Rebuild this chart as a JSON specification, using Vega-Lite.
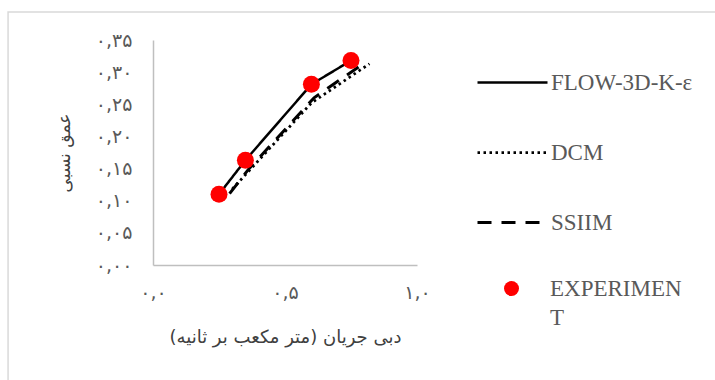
{
  "$schema": "https://vega.github.io/schema/vega-lite/v6.json",
  "width": 264,
  "height": 225,
  "autosize": "none",
  "padding": {"left": 153, "top": 40, "right": 298, "bottom": 115},
  "background": "white",
  "title": {
    "text": "(b)",
    "font": "Liberation Serif",
    "fontSize": 24,
    "fontWeight": "normal",
    "color": "#000000",
    "anchor": "middle",
    "baseline": "alphabetic",
    "dx": 85,
    "offset": 42
  },
  "config": {
    "view": {"stroke": null},
    "font": "DejaVu Sans",
    "style": {"guide-label": {"lineHeight": 29}},
    "axis": {
      "ticks": false,
      "grid": false,
      "domainColor": "#bfbfbf",
      "domainWidth": 1.5,
      "labelFont": "DejaVu Sans",
      "labelFontSize": 19,
      "labelColor": "#595959",
      "labelOverlap": false,
      "labelFlush": false,
      "labelBound": false,
      "titleFont": "DejaVu Sans",
      "titleFontWeight": "normal",
      "titleColor": "#404040"
    },
    "axisX": {"labelPadding": 18, "titleFontSize": 18, "titlePadding": 26},
    "axisY": {"labelPadding": 21, "titleFontSize": 17, "titlePadding": 22}
  },
  "datasets": {
    "models": [
      {"series": "FLOW-3D-K-ε", "Q": 0.25, "depth": 0.110},
      {"series": "FLOW-3D-K-ε", "Q": 0.35, "depth": 0.163},
      {"series": "FLOW-3D-K-ε", "Q": 0.60, "depth": 0.281},
      {"series": "FLOW-3D-K-ε", "Q": 0.75, "depth": 0.318},
      {"series": "DCM", "Q": 0.30, "depth": 0.118},
      {"series": "DCM", "Q": 0.60, "depth": 0.252},
      {"series": "DCM", "Q": 0.82, "depth": 0.313},
      {"series": "SSIIM", "Q": 0.29, "depth": 0.111},
      {"series": "SSIIM", "Q": 0.36, "depth": 0.148},
      {"series": "SSIIM", "Q": 0.61, "depth": 0.260},
      {"series": "SSIIM", "Q": 0.785, "depth": 0.310}
    ],
    "experiment": [
      {"series": "EXPERIMENT", "Q": 0.25, "depth": 0.110},
      {"series": "EXPERIMENT", "Q": 0.35, "depth": 0.163},
      {"series": "EXPERIMENT", "Q": 0.60, "depth": 0.281},
      {"series": "EXPERIMENT", "Q": 0.75, "depth": 0.318}
    ],
    "frame": [{"id": 1}]
  },
  "layer": [
    {
      "data": {"name": "models"},
      "mark": {"type": "line", "color": "#000000"},
      "encoding": {
        "x": {
          "field": "Q",
          "type": "quantitative",
          "scale": {"domain": [0, 1], "nice": false, "zero": false},
          "axis": {
            "values": [0, 0.5, 1],
            "tickCount": 10,
            "labelExpr": "['۰,۰', '۰,۵', '۱,۰'][round(datum.value * 2)]",
            "title": "دبی جریان (متر مکعب بر ثانیه)‏"
          }
        },
        "y": {
          "field": "depth",
          "type": "quantitative",
          "scale": {"domain": [0, 0.35], "nice": false, "zero": false},
          "axis": {
            "values": [0, 0.05, 0.1, 0.15, 0.2, 0.25, 0.3, 0.35],
            "tickCount": 10,
            "labelExpr": "['۰,۰۰', '۰,۰۵', '۰,۱۰', '۰,۱۵', '۰,۲۰', '۰,۲۵', '۰,۳۰', '۰,۳۵'][round(datum.value * 20)]",
            "title": "عمق نسبی"
          }
        },
        "strokeDash": {
          "field": "series",
          "type": "nominal",
          "scale": {
            "domain": ["FLOW-3D-K-ε", "DCM", "SSIIM"],
            "range": [[1, 0], [2.5, 3.5], [14, 10]]
          },
          "legend": {
            "orient": "none",
            "legendX": 323,
            "legendY": 6,
            "title": null,
            "symbolType": "stroke",
            "symbolSize": 4900,
            "symbolStrokeColor": "#000000",
            "labelFont": "Liberation Serif",
            "labelFontSize": 23,
            "labelColor": "#595959",
            "labelLimit": 300,
            "labelOffset": 2,
            "rowPadding": 21,
            "padding": 0
          }
        },
        "strokeWidth": {
          "field": "series",
          "type": "nominal",
          "scale": {
            "domain": ["FLOW-3D-K-ε", "DCM", "SSIIM"],
            "range": [2.5, 3, 4]
          }
        }
      }
    },
    {
      "data": {"name": "experiment"},
      "mark": {"type": "point", "filled": true, "shape": "circle", "size": 289, "opacity": 1},
      "encoding": {
        "x": {"field": "Q", "type": "quantitative"},
        "y": {"field": "depth", "type": "quantitative"},
        "color": {
          "field": "series",
          "type": "nominal",
          "scale": {"domain": ["EXPERIMENT"], "range": ["#ff0000"]},
          "legend": {
            "orient": "none",
            "legendX": 347,
            "legendY": 237,
            "title": null,
            "symbolType": "circle",
            "symbolSize": 225,
            "symbolOpacity": 1,
            "labelExpr": "['EXPERIMEN', 'T']",
            "labelFont": "Liberation Serif",
            "labelFontSize": 23,
            "labelColor": "#595959",
            "labelLimit": 300,
            "labelOffset": 27,
            "padding": 0
          }
        }
      }
    },
    {
      "data": {"name": "frame"},
      "mark": {"type": "rect", "fill": "white", "fillOpacity": 0, "stroke": "#d9d9d9", "strokeWidth": 1.5},
      "encoding": {
        "x": {"datum": -0.549, "type": "quantitative"},
        "x2": {"datum": 2.6},
        "y": {"datum": 0.3935, "type": "quantitative"},
        "y2": {"datum": -0.4}
      }
    }
  ]
}
